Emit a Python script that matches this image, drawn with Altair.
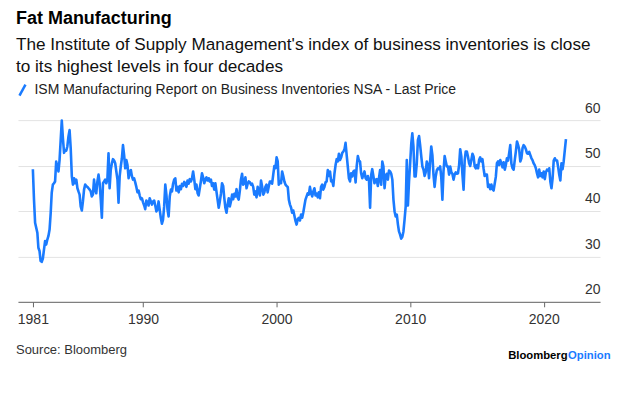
import altair as alt
import pandas as pd

# ---------------- data ----------------
start_month = "1981-10-01"   # first monthly observation
values = [
    49.2, 42.5, 37.4, 36.3, 35.2, 31.9, 31.2, 29.0, 28.8, 29.5, 31.5, 33.4,
    32.6, 33.7, 34.5, 35.9, 39.6, 44.0, 45.8, 46.1, 46.5, 50.9, 49.8, 48.7,
    51.2, 55.6, 59.9, 56.0, 52.8, 53.4, 53.3, 54.2, 56.4, 57.8, 53.8, 47.6,
    45.8, 47.2, 46.1, 46.9, 45.0, 44.3, 43.6, 41.0, 40.1, 42.1, 44.7, 45.8,
    45.5, 45.3, 45.0, 44.7, 44.3, 43.2, 43.6, 46.9, 44.7, 43.9, 46.5, 48.0,
    46.1, 42.5, 38.5, 46.1, 46.5, 46.9, 46.1, 46.9, 52.7, 45.0, 49.0, 50.5,
    51.4, 51.1, 50.5, 48.7, 46.9, 41.8, 47.6, 49.8, 51.6, 54.5, 52.3, 49.4,
    51.2, 50.1, 47.2, 48.7, 49.0, 47.7, 46.9, 47.2, 46.3, 45.3, 44.1, 44.5,
    43.4, 42.6, 42.8, 41.9, 41.2, 40.4, 42.3, 41.9, 41.2, 42.8, 42.1, 41.4,
    42.1, 42.3, 41.2, 39.9, 40.3, 42.1, 40.3, 38.5, 37.2, 38.1, 41.0, 45.8,
    43.6, 40.3, 38.8, 43.2, 44.7, 44.3, 46.0, 46.9, 47.2, 44.5, 45.3, 44.1,
    45.5, 44.8, 46.0, 45.5, 46.4, 46.0, 45.3, 46.7, 46.0, 47.0, 46.5, 47.2,
    48.7, 46.9, 44.8, 45.8, 43.9, 43.4, 45.0, 46.5, 48.3, 47.4, 46.1, 46.9,
    47.4, 46.7, 47.2, 46.5, 46.9, 45.5, 46.1, 44.7, 46.1, 44.3, 42.5, 40.7,
    42.1, 43.8, 46.1, 45.5, 42.8, 40.7, 39.6, 41.4, 42.8, 41.0, 42.1, 43.6,
    42.6, 43.8, 43.2, 44.8, 43.0, 42.5, 44.5, 46.9, 48.2, 45.8, 46.1, 47.4,
    45.0, 46.0, 46.5, 46.3, 45.8, 46.0, 45.3, 43.6, 44.3, 43.0, 45.3, 44.3,
    43.4, 46.7, 45.4, 43.6, 44.1, 45.3, 45.8, 44.1, 45.4, 46.5, 46.5, 46.0,
    48.0, 49.9, 49.4, 51.8, 50.9, 45.8, 46.5, 46.1, 48.7, 47.7, 46.5, 45.8,
    45.5, 45.3, 42.5, 41.4, 40.7, 39.6, 40.1, 39.0, 37.8, 37.0, 38.2, 38.5,
    37.9, 39.2, 38.5, 39.7, 41.2, 42.5, 43.2, 43.9, 43.6, 45.3, 43.9, 43.2,
    44.3, 45.0, 43.4, 43.8, 43.0, 44.1, 42.8, 45.3, 45.8, 44.7, 45.3, 46.3,
    46.5, 49.0, 47.7, 48.7, 46.5, 46.7, 45.5, 48.2, 50.1, 51.4, 50.9, 52.6,
    51.2, 51.8, 52.8, 53.1, 53.6, 55.0, 52.3, 49.8, 47.2, 46.5, 48.3, 47.6,
    48.7, 48.9, 46.3, 49.9, 52.1, 51.1, 50.9, 48.3, 47.2, 48.0, 48.7, 47.2,
    46.9, 47.7, 46.9, 40.7, 48.0, 49.2, 47.7, 46.1, 46.9, 47.0, 45.5, 47.2,
    49.0, 45.8, 50.9, 49.8, 45.0, 47.6, 48.2, 46.9, 48.9, 48.7, 48.2, 46.9,
    42.5, 39.9, 38.8, 39.2, 37.0, 35.5, 34.8, 33.9, 34.3, 35.5, 38.1, 41.0,
    51.2, 41.2, 46.5, 50.5, 54.9, 57.1, 54.2, 47.6, 47.6, 50.5, 55.6, 56.5,
    54.5, 52.0, 49.8, 49.1, 47.7, 48.5, 50.9, 50.1, 47.2, 50.9, 54.2, 52.3,
    48.0, 45.3, 47.6, 49.0, 49.4, 49.2, 49.8, 47.4, 42.5, 48.7, 52.1, 50.9,
    49.8, 49.8, 48.0, 49.8, 48.5, 48.2, 46.9, 48.0, 48.5, 48.2, 48.3, 50.1,
    53.6, 52.0, 48.0, 44.7, 51.2, 53.1, 53.1, 52.0, 50.5, 49.9, 51.2, 52.6,
    52.0, 49.8, 49.4, 50.1, 49.4, 51.2, 51.8, 50.9, 51.4, 49.4, 47.7, 48.0,
    48.0, 45.3, 45.8, 44.8, 45.8, 44.8, 44.5, 46.0, 47.5, 50.5, 50.9, 50.1,
    51.2, 50.5, 49.6, 50.7, 49.1, 50.1, 51.6, 51.1, 52.7, 54.5, 50.4, 49.4,
    49.1, 51.2, 53.1, 55.3, 54.5, 53.6, 50.9, 51.6, 53.8, 54.5, 54.2, 53.6,
    52.7, 52.6, 53.0, 52.3, 51.6, 51.2, 50.5, 50.1, 49.4, 48.3, 47.4, 49.1,
    47.7, 48.3, 47.4, 48.7, 47.0, 48.5, 49.1, 48.9, 49.4, 46.5, 45.0, 47.2,
    51.1, 51.6, 51.1, 51.1, 49.6, 48.0, 46.7, 50.5, 49.2, 50.9, 53.4, 55.8,
]
series_name = "ISM Manufacturing Report on Business Inventories NSA - Last Price"
x_tick_dates = [(1981, 10), (1990, 1), (2000, 1), (2010, 1), (2020, 1)]
y_ticks = [20, 30, 40, 50, 60]

title_text = "Fat Manufacturing"
subtitle_lines = [
    "The Institute of Supply Management's index of business inventories is close",
    "to its highest levels in four decades",
]
source_text = "Source: Bloomberg"

FONT = "Liberation Sans"
BLUE = "#1a7bff"

dates = pd.date_range(start_month, periods=len(values), freq="MS")
df = pd.DataFrame({
    "date": dates.strftime("%Y-%m-%d"),
    "value": values,
    "series": series_name,
})

x_scale = alt.Scale(
    type="utc",
    domain=[alt.DateTime(year=1980, month=8, date=20, utc=True),
            alt.DateTime(year=2024, month=3, date=21, utc=True)],
)
x_axis = alt.Axis(
    title=None,
    values=[alt.DateTime(year=y, month=m, date=1, utc=True) for y, m in x_tick_dates],
    format="%Y",
    grid=False,
    domainColor="#666666",
    domainWidth=1,
    tickColor="#666666",
    tickSize=5,
    labelFontSize=14,
    labelFont=FONT,
    labelColor="#333333",
    labelPadding=6,
)
y_axis = alt.Axis(
    title=None,
    orient="right",
    values=y_ticks,
    domain=False,
    ticks=False,
    tickSize=0,
    grid=True,
    gridColor="#e3e3e3",
    gridWidth=1,
    labelAlign="right",
    labelBaseline="alphabetic",
    labelPadding=0,
    labelOffset=-8,
    labelFontSize=14,
    labelFont=FONT,
    labelColor="#333333",
)

line = alt.Chart(df).mark_line(strokeWidth=2.6, strokeJoin="round").encode(
    x=alt.X("date:T", scale=x_scale, axis=x_axis),
    y=alt.Y("value:Q", scale=alt.Scale(domain=[20, 60], nice=False, zero=False), axis=y_axis),
    color=alt.Color(
        "series:N",
        scale=alt.Scale(domain=[series_name], range=[BLUE]),
        legend=alt.Legend(
            orient="none",
            legendX=-2.5,
            legendY=-37,
            title=None,
            padding=0,
            symbolType="M-0.55,1L0.55,-1",
            symbolSize=120,
            symbolStrokeWidth=2.5,
            labelFontSize=14,
            labelFont=FONT,
            labelColor="#222222",
            labelOffset=5,
            labelLimit=600,
        ),
    ),
)

source = alt.Chart(pd.DataFrame({"t": [source_text]})).mark_text(
    align="left", baseline="middle", fontSize=13, font=FONT, color="#333333"
).encode(x=alt.value(-2), y=alt.value(230), text="t:N")

brand1 = alt.Chart(pd.DataFrame({"t": ["Bloomberg"]})).mark_text(
    align="left", baseline="middle", fontSize=11.3, font=FONT, fontWeight="bold", color="#000000"
).encode(x=alt.value(491), y=alt.value(236), text="t:N")

brand2 = alt.Chart(pd.DataFrame({"t": ["Opinion"]})).mark_text(
    align="left", baseline="middle", fontSize=11.3, font=FONT, fontWeight="bold", color=BLUE
).encode(x=alt.value(551), y=alt.value(236), text="t:N")

chart = alt.layer(line, source, brand1, brand2).properties(
    width=583,
    height=182,
    autosize="none",
    padding={"left": 10, "right": 16, "top": 112, "bottom": 75},
    title=alt.TitleParams(
        text=title_text,
        subtitle=subtitle_lines,
        anchor="start",
        frame="group",
        orient="top",
        font=FONT,
        fontSize=18,
        fontWeight="bold",
        color="#000000",
        subtitleFont=FONT,
        subtitleFontSize=17.2,
        subtitleColor="#111111",
        subtitleLineHeight=22,
        subtitlePadding=8,
        offset=8,
        dx=-2,
    ),
).configure_view(stroke=None)

chart.save("out.html", embed_options={"renderer": "svg", "actions": False})
